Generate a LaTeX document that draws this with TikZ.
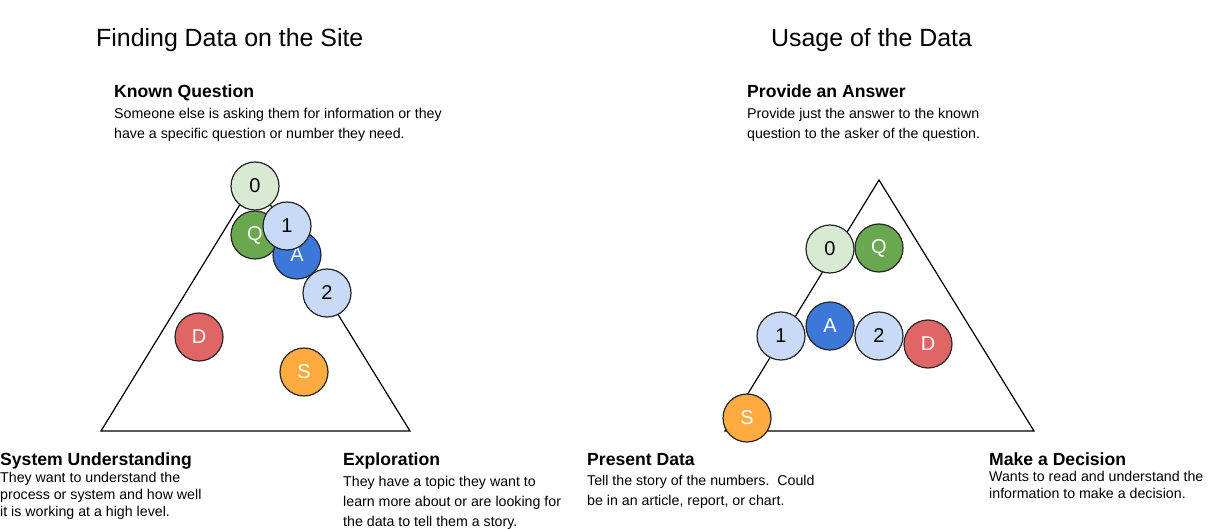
\documentclass[tikz,border=0pt]{standalone}
\usepackage{fontspec}
\setmainfont{Liberation Sans}
\usepackage{tikz}
\usetikzlibrary{positioning}

\definecolor{paleGreen}{HTML}{D9EAD3}
\definecolor{qGreen}{HTML}{6AA84F}
\definecolor{aBlue}{HTML}{3C78D8}
\definecolor{paleBlue}{HTML}{C9DAF8}
\definecolor{dRed}{HTML}{E06666}
\definecolor{sOrange}{HTML}{FFAB40}

\begin{document}
\begin{tikzpicture}[
                x=1pt, y=-1pt,
                ball/.style={circle, draw=black!85, line width=1.2pt, minimum size=48pt, inner sep=0pt, font=\fontsize{20}{22}\selectfont}, % Circle for each letter
                light/.style={ball, text=black},
                dark/.style={ball, text=white},
                title/.style={anchor=base west, inner sep=0pt, font=\fontsize{24.9}{28}\selectfont},
                heading/.style={anchor=base west, inner sep=0pt, font=\fontsize{17.6}{20}\selectfont\bfseries},
                blurb/.style={anchor=base west, inner sep=0pt, align=left, font=\fontsize{14.2}{20}\selectfont}, % anchored at the last line
                tight/.style={font=\fontsize{14.2}{16.7}\selectfont}
                ]
                \useasboundingbox (0,0) rectangle (1216,529);

                % Left: finding data
                \node[title] (findTitle) at (96,46.7) {Finding Data on the Site};
                \node[heading] (knownHead) at (114,97.3) {Known Question};
                \node[blurb] (knownText) at (114,138.7) {Someone else is asking them for information or they\\have a specific question or number they need.};
                \node[heading] (systemHead) at (0,465.3) {System Understanding};
                \node[blurb, tight] (systemText) at (0,516.1) {They want to understand the\\process or system and how well\\it is working at a high level.};
                \node[heading] (exploreHead) at (343,465.3) {Exploration};
                \node[blurb] (exploreText) at (343,526.2) {They have a topic they want to\\learn more about or are looking for\\the data to tell them a story.};

                \draw[line width=1.2pt, line join=miter] (101,431) -- (255,180) -- (410,431) -- cycle;
                \node[light, fill=paleGreen] (findZero) at (255,186) {0};
                \node[dark, fill=qGreen] (findQ) at (255,235) {Q};
                \node[dark, fill=aBlue] (findA) at (297,255) {A};
                \node[light, fill=paleBlue] (findOne) at (287,226) {1};
                \node[light, fill=paleBlue] (findTwo) at (327,293) {2};
                \node[dark, fill=dRed] (findD) at (199,337) {D};
                \node[dark, fill=sOrange] (findS) at (304,372) {S};

                % Right: usage of data
                \node[title] (useTitle) at (771,46.7) {Usage of the Data};
                \node[heading] (answerHead) at (747,97.3) {Provide an Answer};
                \node[blurb] (answerText) at (747,138.7) {Provide just the answer to the known\\question to the asker of the question.};
                \node[heading] (presentHead) at (587,465.3) {Present Data};
                \node[blurb] (presentText) at (587,505.6) {Tell the story of the numbers.\ \ Could\\be in an article, report, or chart.};
                \node[heading] (decideHead) at (989,465.3) {Make a Decision};
                \node[blurb, tight] (decideText) at (989,498.6) {Wants to read and understand the\\information to make a decision.};

                \draw[line width=1.2pt, line join=miter] (725,431) -- (879,180) -- (1034,431) -- cycle;
                \node[light, fill=paleGreen] (useZero) at (830,249) {0};
                \node[dark, fill=qGreen] (useQ) at (879,248) {Q};
                \node[light, fill=paleBlue] (useOne) at (781,336) {1};
                \node[dark, fill=aBlue] (useA) at (830,326) {A};
                \node[light, fill=paleBlue] (useTwo) at (879,336) {2};
                \node[dark, fill=dRed] (useD) at (928,344) {D};
                \node[dark, fill=sOrange] (useS) at (747,418) {S};
            \end{tikzpicture}
\end{document}
